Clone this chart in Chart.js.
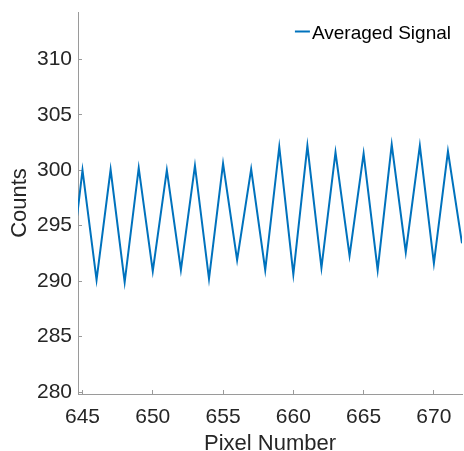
<!DOCTYPE html>
<html>
<head>
<meta charset="utf-8">
<script src="https://cdn.jsdelivr.net/npm/chart.js@4"></script>
<style>
  html, body { margin: 0; padding: 0; background: #fff; }
  #chart { display: block; }
</style>
</head>
<body>
<canvas id="chart" width="464" height="451"></canvas>
<script>
// averaged detector counts per pixel
const pixelNumbers = [644, 645, 646, 647, 648, 649, 650, 651, 652, 653, 654, 655, 656, 657, 658,
  659, 660, 661, 662, 663, 664, 665, 666, 667, 668, 669, 670, 671, 672];
const averagedCounts = [289.3, 300.0, 290.1, 300.05, 289.9, 300.2, 290.9, 300.0, 291.0, 300.4,
  290.2, 300.6, 291.9, 300.1, 291.0, 302.1, 290.6, 302.2, 291.2, 301.6, 292.3, 301.5, 291.0,
  302.3, 292.6, 302.2, 291.6, 301.7, 293.4];

const xRange = [644.68, 672];
const yRange = [279.82, 314.26];
const tickStep = 5;

const lineBlue = '#0072BD';
const axisGray = '#9a9a9a';
const textGray = '#262626';
const fontFamily = '"Liberation Sans", Arial, Helvetica, sans-serif';

const points = pixelNumbers.map((x, i) => ({ x: x, y: averagedCounts[i] }));

// drop the half-label padding chart.js reserves at the axis ends
function fixWidth(w) {
  return (scale) => { scale.width = w; scale.paddingTop = 0; scale.paddingBottom = 0; };
}
function fixHeight(h) {
  return (scale) => { scale.height = h; scale.paddingLeft = 0; scale.paddingRight = 0; };
}

// small legend in the top right corner, line sample hugging the text
const cornerLegend = {
  id: 'cornerLegend',
  afterDatasetsDraw(chart) {
    const { ctx, chartArea } = chart;
    const ds = chart.data.datasets[0];
    ctx.save();
    ctx.font = '19px ' + fontFamily;
    ctx.textAlign = 'right';
    ctx.textBaseline = 'alphabetic';
    ctx.fillStyle = '#000';
    const textRight = chartArea.right - 11;
    const baseline = chartArea.top + 27;
    ctx.fillText(ds.label, textRight, baseline);
    const textLeft = textRight - ctx.measureText(ds.label).width;
    ctx.strokeStyle = ds.borderColor;
    ctx.lineWidth = 2;
    ctx.beginPath();
    ctx.moveTo(textLeft - 17, chartArea.top + 19.5);
    ctx.lineTo(textLeft - 2, chartArea.top + 19.5);
    ctx.stroke();
    ctx.restore();
  },
};

new Chart(document.getElementById('chart'), {
  type: 'line',
  data: {
    datasets: [{
      label: 'Averaged Signal',
      data: points,
      borderColor: lineBlue,
      backgroundColor: lineBlue,
      borderWidth: 2,
      pointRadius: 0,
      tension: 0,
      fill: false,
    }],
  },
  plugins: [cornerLegend],
  options: {
    responsive: false,
    animation: false,
    devicePixelRatio: 1,
    layout: { padding: { top: 12, right: 2, left: 0, bottom: 0 } },
    plugins: {
      tooltip: { enabled: false },
      legend: { display: false },
    },
    scales: {
      x: {
        type: 'linear',
        min: xRange[0],
        max: xRange[1],
        afterFit: fixHeight(57),
        ticks: {
          stepSize: tickStep,
          includeBounds: false,
          maxRotation: 0,
          color: textGray,
          padding: 15,
          font: { family: fontFamily, size: 21 },
        },
        grid: { drawOnChartArea: false, drawTicks: true, tickLength: -4, color: axisGray },
        border: { color: axisGray, width: 1 },
        title: {
          display: true,
          text: 'Pixel Number',
          color: textGray,
          padding: 0,
          font: { family: fontFamily, size: 22, lineHeight: 0.6 },
        },
      },
      y: {
        min: yRange[0],
        max: yRange[1],
        afterFit: fixWidth(78),
        ticks: {
          stepSize: tickStep,
          includeBounds: false,
          color: textGray,
          padding: 10,
          font: { family: fontFamily, size: 21 },
        },
        grid: { drawOnChartArea: false, drawTicks: true, tickLength: -4, color: axisGray },
        border: { color: axisGray, width: 1 },
        title: {
          display: true,
          text: 'Counts',
          color: textGray,
          padding: { top: 7, bottom: 0 },
          font: { family: fontFamily, size: 22 },
        },
      },
    },
  },
});
</script>
</body>
</html>
